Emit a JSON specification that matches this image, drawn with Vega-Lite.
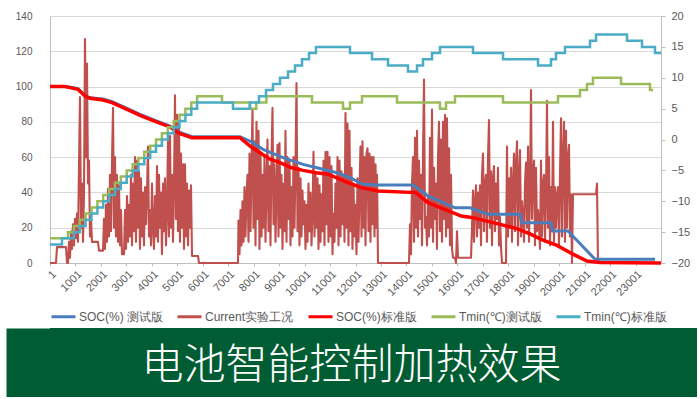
{
"$schema": "https://vega.github.io/schema/vega-lite/v6.json",
"background": "white",
"padding": {"left": 6, "top": 10, "right": 3, "bottom": 0},
"datasets": {
"current": [
{"x":0,"y":0},{"x":236,"y":0},{"x":275,"y":9},{"x":628,"y":9},{"x":668,"y":0},{"x":707,"y":0},{"x":746,"y":12},{"x":786,"y":3},{"x":825,"y":18},{"x":864,"y":8},{"x":903,"y":22},{"x":943,"y":10},{"x":982,"y":25},{"x":1021,"y":14},{"x":1061,"y":28},{"x":1100,"y":12},{"x":1139,"y":55},{"x":1178,"y":94},{"x":1218,"y":20},{"x":1257,"y":45},{"x":1296,"y":12},{"x":1336,"y":40},{"x":1375,"y":127},{"x":1414,"y":60},{"x":1453,"y":113},{"x":1493,"y":45},{"x":1532,"y":58},{"x":1571,"y":15},{"x":1610,"y":25},{"x":1650,"y":12},{"x":1885,"y":12},{"x":1925,"y":7},{"x":2082,"y":7},{"x":2121,"y":25},{"x":2160,"y":8},{"x":2200,"y":33},{"x":2239,"y":12},{"x":2278,"y":42},{"x":2318,"y":15},{"x":2357,"y":50},{"x":2396,"y":18},{"x":2435,"y":56},{"x":2475,"y":88},{"x":2514,"y":20},{"x":2553,"y":60},{"x":2592,"y":15},{"x":2632,"y":50},{"x":2671,"y":12},{"x":2710,"y":44},{"x":2750,"y":10},{"x":2789,"y":30},{"x":2828,"y":5},{"x":2907,"y":5},
{"x":2946,"y":30},{"x":2985,"y":8},{"x":3025,"y":38},{"x":3064,"y":12},{"x":3103,"y":33},{"x":3142,"y":15},{"x":3182,"y":50},{"x":3221,"y":10},{"x":3260,"y":45},{"x":3300,"y":18},{"x":3339,"y":60},{"x":3378,"y":12},{"x":3417,"y":58},{"x":3457,"y":20},{"x":3496,"y":52},{"x":3535,"y":8},{"x":3574,"y":48},{"x":3614,"y":15},{"x":3653,"y":40},{"x":3692,"y":10},{"x":3732,"y":43},{"x":3771,"y":22},{"x":3810,"y":40},{"x":3849,"y":66},{"x":3889,"y":15},{"x":3928,"y":30},{"x":3967,"y":10},{"x":4007,"y":45},{"x":4046,"y":20},{"x":4085,"y":8},{"x":4124,"y":38},{"x":4164,"y":15},{"x":4203,"y":55},{"x":4242,"y":12},{"x":4282,"y":50},{"x":4321,"y":20},{"x":4360,"y":40},{"x":4399,"y":5},{"x":4439,"y":45},{"x":4478,"y":18},{"x":4517,"y":48},{"x":4556,"y":10},{"x":4596,"y":30},{"x":4635,"y":69},{"x":4674,"y":15},{"x":4714,"y":72},{"x":4753,"y":20},{"x":4792,"y":50},{"x":4831,"y":12},{"x":4871,"y":45},{"x":4910,"y":95},{"x":4949,"y":25},{"x":4989,"y":84},{"x":5028,"y":18},{"x":5067,"y":80},{"x":5106,"y":12},{"x":5146,"y":62},{"x":5185,"y":20},{"x":5224,"y":56},{"x":5264,"y":8},{"x":5303,"y":56},{"x":5342,"y":15},{"x":5381,"y":45},{"x":5421,"y":10},{"x":5460,"y":41},{"x":5499,"y":20},{"x":5538,"y":44},{"x":5578,"y":4},{"x":5813,"y":4},{"x":5853,"y":0},{"x":7385,"y":0},
{"x":7404,"y":24},{"x":7444,"y":5},{"x":7483,"y":30},{"x":7522,"y":10},{"x":7561,"y":35},{"x":7601,"y":12},{"x":7640,"y":43},{"x":7679,"y":15},{"x":7719,"y":38},{"x":7758,"y":50},{"x":7797,"y":12},{"x":7836,"y":62},{"x":7876,"y":18},{"x":7915,"y":55},{"x":7954,"y":87},{"x":7993,"y":20},{"x":8033,"y":69},{"x":8072,"y":10},{"x":8111,"y":80},{"x":8151,"y":25},{"x":8190,"y":75},{"x":8229,"y":8},{"x":8268,"y":63},{"x":8308,"y":15},{"x":8347,"y":50},{"x":8386,"y":20},{"x":8426,"y":60},{"x":8465,"y":12},{"x":8504,"y":45},{"x":8543,"y":70},{"x":8583,"y":18},{"x":8622,"y":55},{"x":8661,"y":10},{"x":8701,"y":58},{"x":8740,"y":88},{"x":8779,"y":22},{"x":8818,"y":56},{"x":8858,"y":12},{"x":8897,"y":40},{"x":8936,"y":67},{"x":8975,"y":15},{"x":9015,"y":68},{"x":9054,"y":20},{"x":9093,"y":50},{"x":9133,"y":8},{"x":9172,"y":45},{"x":9211,"y":18},{"x":9250,"y":75},{"x":9290,"y":12},{"x":9329,"y":60},{"x":9368,"y":25},{"x":9408,"y":58},{"x":9447,"y":10},{"x":9486,"y":43},{"x":9525,"y":15},{"x":9565,"y":60},{"x":9604,"y":20},{"x":9643,"y":55},{"x":9683,"y":102},{"x":9722,"y":18},{"x":9761,"y":54},{"x":9800,"y":10},{"x":9840,"y":48},{"x":9879,"y":15},{"x":9918,"y":41},{"x":9957,"y":22},{"x":9997,"y":35},{"x":10036,"y":8},{"x":10075,"y":33},{"x":10115,"y":12},{"x":10154,"y":45},{"x":10193,"y":18},{"x":10232,"y":40},{"x":10272,"y":10},{"x":10311,"y":29},{"x":10350,"y":63},{"x":10390,"y":15},{"x":10429,"y":50},{"x":10468,"y":20},{"x":10507,"y":48},{"x":10547,"y":8},{"x":10586,"y":44},{"x":10625,"y":12},{"x":10665,"y":39},{"x":10704,"y":18},{"x":10743,"y":58},{"x":10782,"y":10},{"x":10822,"y":63},{"x":10861,"y":22},{"x":10900,"y":63},{"x":10939,"y":12},{"x":10979,"y":60},{"x":11018,"y":15},{"x":11057,"y":55},{"x":11097,"y":5},{"x":11136,"y":28},{"x":11175,"y":12},{"x":11214,"y":45},{"x":11254,"y":20},{"x":11293,"y":60},{"x":11332,"y":10},{"x":11372,"y":58},{"x":11411,"y":15},{"x":11450,"y":52},{"x":11489,"y":22},{"x":11529,"y":50},{"x":11568,"y":12},{"x":11607,"y":85},{"x":11647,"y":20},{"x":11686,"y":79},{"x":11725,"y":10},{"x":11764,"y":75},{"x":11804,"y":18},{"x":11843,"y":54},{"x":11882,"y":8},{"x":11921,"y":45},{"x":11961,"y":15},{"x":12000,"y":33},{"x":12039,"y":5},{"x":12079,"y":48},{"x":12118,"y":12},{"x":12157,"y":40},{"x":12196,"y":66},{"x":12236,"y":15},{"x":12275,"y":69},{"x":12314,"y":20},{"x":12354,"y":60},{"x":12393,"y":10},{"x":12432,"y":62},{"x":12471,"y":65},{"x":12511,"y":18},{"x":12550,"y":62},{"x":12589,"y":12},{"x":12629,"y":60},{"x":12668,"y":22},{"x":12707,"y":60},{"x":12746,"y":15},{"x":12786,"y":56},{"x":12825,"y":20},{"x":12845,"y":50},{"x":12884,"y":0},{"x":14102,"y":0},
{"x":14141,"y":22},{"x":14180,"y":5},{"x":14219,"y":45},{"x":14259,"y":60},{"x":14298,"y":12},{"x":14337,"y":71},{"x":14376,"y":20},{"x":14416,"y":75},{"x":14455,"y":15},{"x":14494,"y":58},{"x":14534,"y":25},{"x":14573,"y":50},{"x":14612,"y":10},{"x":14651,"y":60},{"x":14691,"y":104},{"x":14730,"y":20},{"x":14769,"y":26},{"x":14809,"y":10},{"x":14848,"y":37},{"x":14887,"y":15},{"x":14926,"y":71},{"x":14966,"y":20},{"x":15005,"y":87},{"x":15044,"y":12},{"x":15084,"y":54},{"x":15123,"y":25},{"x":15162,"y":45},{"x":15201,"y":8},{"x":15241,"y":60},{"x":15280,"y":80},{"x":15319,"y":18},{"x":15358,"y":70},{"x":15398,"y":12},{"x":15437,"y":80},{"x":15476,"y":25},{"x":15516,"y":84},{"x":15555,"y":15},{"x":15594,"y":82},{"x":15633,"y":20},{"x":15673,"y":65},{"x":15712,"y":10},{"x":15751,"y":50},{"x":15791,"y":8},{"x":15830,"y":3},{"x":15908,"y":3},{"x":15948,"y":0},{"x":15987,"y":18},{"x":16026,"y":3},{"x":16537,"y":3},
{"x":16576,"y":20},{"x":16615,"y":41},{"x":16655,"y":12},{"x":16694,"y":35},{"x":16733,"y":44},{"x":16773,"y":15},{"x":16812,"y":40},{"x":16851,"y":20},{"x":16890,"y":44},{"x":16930,"y":10},{"x":16969,"y":50},{"x":17008,"y":62},{"x":17048,"y":18},{"x":17087,"y":45},{"x":17126,"y":50},{"x":17165,"y":12},{"x":17205,"y":60},{"x":17244,"y":81},{"x":17283,"y":20},{"x":17322,"y":52},{"x":17362,"y":10},{"x":17401,"y":48},{"x":17440,"y":55},{"x":17480,"y":18},{"x":17519,"y":45},{"x":17558,"y":25},{"x":17597,"y":54},{"x":17637,"y":10},{"x":17676,"y":26},{"x":17715,"y":9},{"x":17755,"y":0},{"x":17912,"y":0},{"x":17951,"y":66},{"x":17990,"y":15},{"x":18030,"y":48},{"x":18069,"y":20},{"x":18108,"y":54},{"x":18147,"y":12},{"x":18187,"y":45},{"x":18226,"y":62},{"x":18265,"y":18},{"x":18304,"y":55},{"x":18344,"y":69},{"x":18383,"y":10},{"x":18422,"y":50},{"x":18462,"y":64},{"x":18501,"y":15},{"x":18540,"y":35},{"x":18579,"y":27},{"x":18619,"y":12},{"x":18658,"y":45},{"x":18697,"y":57},{"x":18737,"y":20},{"x":18776,"y":66},{"x":18815,"y":12},{"x":18854,"y":40},{"x":18894,"y":98},{"x":18933,"y":25},{"x":18972,"y":50},{"x":19012,"y":58},{"x":19051,"y":10},{"x":19090,"y":54},{"x":19129,"y":18},{"x":19169,"y":30},{"x":19208,"y":21},{"x":19247,"y":8},{"x":19286,"y":58},{"x":19326,"y":15},{"x":19365,"y":45},{"x":19404,"y":50},{"x":19444,"y":12},{"x":19483,"y":40},{"x":19522,"y":92},{"x":19561,"y":20},{"x":19601,"y":60},{"x":19640,"y":10},{"x":19679,"y":43},{"x":19719,"y":18},{"x":19758,"y":80},{"x":19797,"y":12},{"x":19836,"y":43},{"x":19876,"y":20},{"x":19915,"y":38},{"x":19954,"y":43},{"x":19994,"y":10},{"x":20033,"y":50},{"x":20072,"y":82},{"x":20111,"y":15},{"x":20151,"y":60},{"x":20190,"y":80},{"x":20229,"y":12},{"x":20268,"y":75},{"x":20308,"y":20},{"x":20347,"y":60},{"x":20386,"y":67},{"x":20426,"y":15},{"x":20465,"y":39},{"x":20504,"y":0},{"x":20543,"y":39},{"x":21447,"y":39},{"x":21486,"y":45},{"x":21525,"y":0},{"x":24000,"y":0}
],
"soc_test": [
{"x":0,"y":100},{"x":589,"y":100},{"x":864,"y":99.5},{"x":1100,"y":98.8},{"x":1375,"y":94.8},{"x":1571,"y":93.6},{"x":2082,"y":93},{"x":2435,"y":91.5},{"x":3025,"y":87.6},{"x":3535,"y":84.2},{"x":4203,"y":80.4},{"x":4714,"y":77.6},{"x":5106,"y":74},{"x":5578,"y":71.6},{"x":7463,"y":71.6},{"x":7974,"y":68.2},{"x":8367,"y":64.4},{"x":9152,"y":59.7},{"x":9938,"y":55.9},{"x":10488,"y":54},{"x":11273,"y":51.2},{"x":11784,"y":48.4},{"x":12295,"y":44.6},{"x":12845,"y":44.2},{"x":14259,"y":44.2},{"x":14848,"y":38},{"x":15908,"y":31.3},{"x":16498,"y":31.3},{"x":17205,"y":27.6},{"x":18462,"y":27.6},{"x":18540,"y":22.8},{"x":19679,"y":22.8},{"x":19758,"y":18.1},{"x":20347,"y":18.1},{"x":21408,"y":2.1},{"x":23764,"y":2.1}
],
"soc_std": [
{"x":0,"y":100},{"x":589,"y":100},{"x":786,"y":99.4},{"x":1100,"y":98.4},{"x":1375,"y":94.7},{"x":1571,"y":93.4},{"x":2082,"y":92.4},{"x":2435,"y":90.9},{"x":3025,"y":87.1},{"x":3535,"y":83.7},{"x":4203,"y":79.9},{"x":4714,"y":77.1},{"x":5106,"y":73.3},{"x":5578,"y":71},{"x":7463,"y":71},{"x":7856,"y":66.3},{"x":8249,"y":62.5},{"x":8642,"y":58.8},{"x":9034,"y":56.9},{"x":9490,"y":54},{"x":9938,"y":52.5},{"x":10460,"y":51.2},{"x":10920,"y":50.3},{"x":11705,"y":45.5},{"x":12228,"y":42.7},{"x":12884,"y":40.8},{"x":14377,"y":39.9},{"x":14848,"y":34.2},{"x":15504,"y":30.4},{"x":16156,"y":26.6},{"x":16615,"y":25.7},{"x":17558,"y":22.3},{"x":18344,"y":19.5},{"x":18854,"y":16.5},{"x":19365,"y":13},{"x":19915,"y":10},{"x":20543,"y":5},{"x":21093,"y":1.1},{"x":21604,"y":0.3},{"x":24000,"y":0}
],
"t_test": [
{"x":0,"y":-16},{"x":707,"y":-15},{"x":939,"y":-14},{"x":1167,"y":-13},{"x":1398,"y":-12},{"x":1630,"y":-11},{"x":1862,"y":-10},{"x":2090,"y":-9},{"x":2321,"y":-8},{"x":2553,"y":-7},{"x":2781,"y":-6},{"x":3013,"y":-5},{"x":3245,"y":-4},{"x":3472,"y":-3},{"x":3704,"y":-2},{"x":3936,"y":-1},{"x":4164,"y":0},{"x":4395,"y":1},{"x":4627,"y":2},{"x":4859,"y":3},{"x":5087,"y":4},{"x":5319,"y":5},{"x":5550,"y":6},{"x":5778,"y":7},{"x":6756,"y":6},{"x":7844,"y":5},{"x":8103,"y":6},{"x":8499,"y":7},{"x":10291,"y":6},{"x":11509,"y":5},{"x":11784,"y":6},{"x":12255,"y":7},{"x":13631,"y":6},{"x":15319,"y":5},{"x":15555,"y":6},{"x":15908,"y":7},{"x":17794,"y":6},{"x":19954,"y":7},{"x":20818,"y":8},{"x":21093,"y":9},{"x":21329,"y":10},{"x":22429,"y":9},{"x":23568,"y":8},{"x":23686,"y":8}
],
"t_std": [
{"x":0,"y":-17},{"x":471,"y":-16},{"x":939,"y":-15},{"x":1167,"y":-14},{"x":1398,"y":-13},{"x":1630,"y":-12},{"x":1862,"y":-11},{"x":2090,"y":-10},{"x":2321,"y":-9},{"x":2553,"y":-8},{"x":2781,"y":-7},{"x":3013,"y":-6},{"x":3245,"y":-5},{"x":3472,"y":-4},{"x":3704,"y":-3},{"x":3936,"y":-2},{"x":4164,"y":-1},{"x":4395,"y":0},{"x":4627,"y":1},{"x":4859,"y":2},{"x":5087,"y":3},{"x":5319,"y":4},{"x":5550,"y":5},{"x":5778,"y":6},{"x":7188,"y":5},{"x":7856,"y":6},{"x":8209,"y":7},{"x":8484,"y":8},{"x":8759,"y":9},{"x":9034,"y":10},{"x":9349,"y":11},{"x":9624,"y":12},{"x":9899,"y":13},{"x":10174,"y":14},{"x":10448,"y":15},{"x":11784,"y":14},{"x":12648,"y":13},{"x":13277,"y":12},{"x":14062,"y":11},{"x":14416,"y":12},{"x":14651,"y":13},{"x":15005,"y":14},{"x":15319,"y":15},{"x":16615,"y":14},{"x":17794,"y":13},{"x":19169,"y":12},{"x":19679,"y":13},{"x":19875,"y":14},{"x":20229,"y":15},{"x":21211,"y":16},{"x":21447,"y":17},{"x":22665,"y":16},{"x":23254,"y":15},{"x":23764,"y":14},{"x":24000,"y":14}
]
},
"spacing": 5,
"resolve": {"scale": {"color": "independent"}, "legend": {"color": "independent"}},
"vconcat": [
{
"width": 611,
"height": 247,
"resolve": {"scale": {"y": "independent"}},
"encoding": {
"x": {"field": "x", "type": "quantitative", "scale": {"domain": [0, 24000], "nice": false, "zero": false},
"axis": {"values": [1,1001,2001,3001,4001,5001,6001,7001,8001,9001,10001,11001,12001,13001,14001,15001,16001,17001,18001,19001,20001,21001,22001,23001], "format": "d", "labelAngle": -45, "grid": false, "tickSize": 3, "labelFontSize": 11, "labelPadding": 2, "labelOverlap": false, "labelFlush": false, "labelBound": false, "title": null}}
},
"layer": [
{
"encoding": {
"y": {"field": "y", "type": "quantitative", "scale": {"domain": [0, 140], "nice": false},
"axis": {"values": [0,20,40,60,80,100,120,140], "grid": true, "gridColor": "#D9D9D9", "ticks": false, "labelPadding": 18, "labelFontSize": 10, "minExtent": 44, "title": null}}
},
"layer": [
{"data": {"name": "current"}, "mark": {"type": "line", "strokeWidth": 2.1, "strokeJoin": "round"},
"encoding": {"color": {"datum": "Current实验工况", "type": "nominal", "scale": {"domain": ["SOC(%) 测试版", "Current实验工况", "SOC(%)标准版", "Tmin(℃)测试版", "Tmin(℃)标准版"], "range": ["#4A7EBB", "#C0504D", "#FF0000", "#9BBB59", "#4BACC6"]}, "legend": {"title": null}}}},
{"data": {"name": "soc_test"}, "mark": {"type": "line", "strokeWidth": 3},
"encoding": {"color": {"datum": "SOC(%) 测试版", "type": "nominal"}}},
{"data": {"name": "soc_std"}, "mark": {"type": "line", "strokeWidth": 3.5},
"encoding": {"color": {"datum": "SOC(%)标准版", "type": "nominal"}}}
]
},
{
"encoding": {
"y": {"field": "y", "type": "quantitative", "scale": {"domain": [-20, 20], "nice": false},
"axis": {"orient": "right", "values": [-20,-15,-10,-5,0,5,10,15,20], "grid": false, "ticks": true, "tickSize": 4, "labelPadding": 6, "labelFontSize": 11, "title": null}}
},
"layer": [
{"data": {"name": "t_test"}, "mark": {"type": "line", "interpolate": "step-after", "strokeWidth": 2.5},
"encoding": {"color": {"datum": "Tmin(℃)测试版", "type": "nominal"}}},
{"data": {"name": "t_std"}, "mark": {"type": "line", "interpolate": "step-after", "strokeWidth": 2.5},
"encoding": {"color": {"datum": "Tmin(℃)标准版", "type": "nominal"}}}
]
}
]
},
{
"width": 647,
"height": 69,
"view": {"fill": "#005C32", "stroke": null},
"data": {"values": [{"t": "电池智能控制加热效果"}]},
"mark": {"type": "text", "font": "Noto Sans CJK SC", "fontSize": 42, "fontWeight": 300, "color": "#FFFFFF", "dx": -22, "dy": 3},
"encoding": {
"text": {"field": "t", "type": "nominal"},
"y": {"datum": 0.5, "type": "quantitative", "scale": {"domain": [0, 1]}, "axis": {"domainWidth": 88, "domainColor": "#005C32", "ticks": false, "labels": false, "grid": false, "title": null}}
}
}
],
"config": {
"view": {"stroke": null},
"font": "Liberation Sans",
"axis": {"labelColor": "#595959", "labelFont": "Liberation Sans", "domainColor": "#BFBFBF", "tickColor": "#BFBFBF"},
"legend": {"orient": "bottom", "direction": "horizontal", "symbolType": "stroke", "symbolStrokeWidth": 3, "symbolSize": 576, "labelFontSize": 12, "labelColor": "#595959", "labelFont": "Liberation Sans", "columnPadding": 8, "labelOffset": 2, "offset": 5, "labelLimit": 200}
}
}
